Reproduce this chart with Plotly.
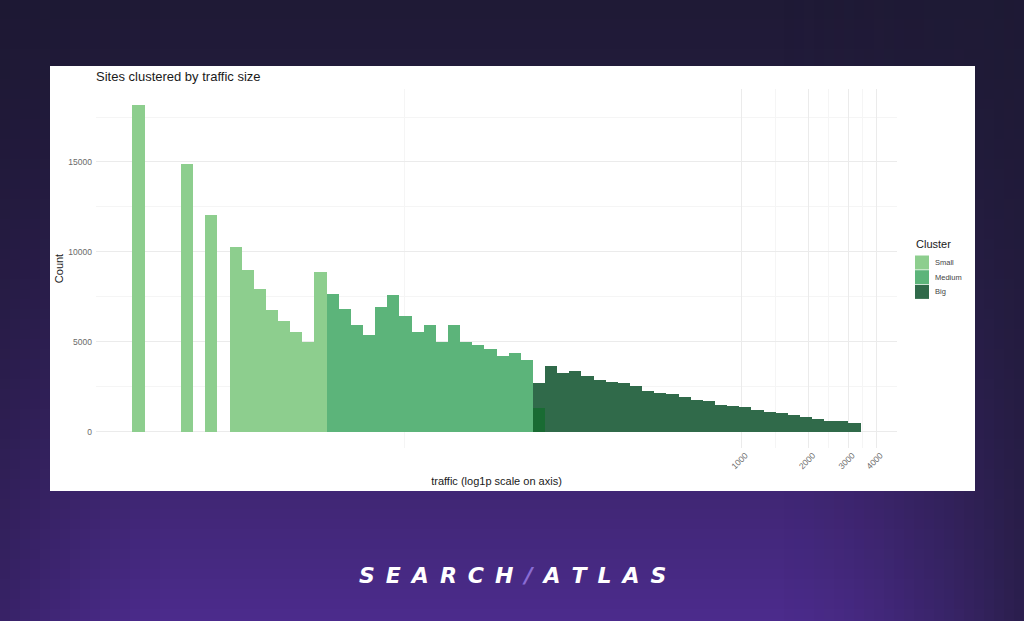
import numpy as np
import plotly.graph_objects as go

# ---------------- data ----------------
# histogram on log1p(traffic); bins of equal width in log1p space
bin_first_center = 0.724      # log1p units, centre of the first bin
bin_width = 0.1245            # log1p units

small_first_bin = 0
small_counts = [18150, 0, 0, 0, 14860, 0, 12040, 0, 10270, 8980, 7940, 6790,
                6180, 5550, 4970, 8860]
medium_first_bin = 16
medium_counts = [7680, 6830, 5960, 5350, 6920, 7590, 6420, 5550, 5960, 4970,
                 5920, 4990, 4810, 4620, 4200, 4360, 3970, 1330]
big_first_bin = 33
big_counts = [2720, 3640, 3270, 3380, 3090, 2890, 2750, 2720, 2530, 2290,
              2140, 2070, 1920, 1770, 1700, 1470, 1420, 1360, 1230, 1120,
              1030, 920, 810, 720, 620, 570, 490]

cluster_names = ["Small", "Medium", "Big"]
cluster_colors = ["#8dce8e", "#5cb47a", "#306a4a"]
overlap_color = "#196b33"

x_tick_values = [1000, 2000, 3000, 4000]
x_break_values = [0, 1000, 2000, 3000, 4000]
y_tick_values = [0, 5000, 10000, 15000]
y_tick_labels = ["0", "5000", "10000", "15000"]
y_minor_values = [2500, 7500, 12500, 17500]

title_text = "Sites clustered by traffic size"
x_title = "traffic (log1p scale on axis)"
y_title = "Count"
legend_title = "Cluster"

# ---------------- derived ----------------
def centers(first_bin, n):
    return [bin_first_center + (first_bin + i) * bin_width for i in range(n)]

xs_small = centers(small_first_bin, len(small_counts))
xs_medium = centers(medium_first_bin, len(medium_counts))
xs_big = centers(big_first_bin, len(big_counts))

# overlap between Medium and Big bins
ov_x, ov_y = [], []
for xm, cm in zip(xs_medium, medium_counts):
    for xb, cb in zip(xs_big, big_counts):
        if abs(xm - xb) < 1e-9:
            ov_x.append(xm)
            ov_y.append(min(cm, cb))

all_left = min(xs_small) - bin_width / 2
all_right = max(xs_big) + bin_width / 2
span = all_right - all_left
x_range = [all_left - 0.05 * span, all_right + 0.05 * span]
ymax = max(small_counts + medium_counts + big_counts)
y_range = [-0.05 * ymax, ymax * 1.05]

major_v = list(np.log1p(x_tick_values))
brk = list(np.log1p(x_break_values))
minor_v = [(a + b) / 2 for a, b in zip(brk[:-1], brk[1:])]

# ---------------- figure geometry ----------------
W, H = 1024, 621
ML, MR, MT, MB = 96, 127, 89, 173
PW, PH = W - ML - MR, H - MT - MB


def px2x(px):
    return (px - ML) / PW


def py2y(py):
    return (H - MB - py) / PH


def hexrgb(h):
    h = h.lstrip("#")
    return [int(h[i:i + 2], 16) for i in (0, 2, 4)]


def mix(c0, c1, t):
    a, b = hexrgb(c0), hexrgb(c1)
    return "rgb(%d,%d,%d)" % tuple(round(a[i] + (b[i] - a[i]) * t) for i in range(3))


fig = go.Figure()

for name, xs, ys, col in zip(cluster_names,
                             [xs_small, xs_medium, xs_big],
                             [small_counts, medium_counts, big_counts],
                             cluster_colors):
    fig.add_trace(go.Bar(x=xs, y=ys, width=bin_width, name=name,
                         marker=dict(color=col, line=dict(width=0)),
                         showlegend=False))

fig.add_trace(go.Bar(x=ov_x, y=ov_y, width=bin_width, showlegend=False,
                     marker=dict(color=overlap_color, line=dict(width=0)),
                     name="overlap"))

shapes = []
# background gradient: vertical
nb = 63
for i in range(nb):
    y0 = i * 10
    y1 = min(H, y0 + 10) + 1
    t = ((y0 + 5) / H) ** 1.4
    shapes.append(dict(type="rect", xref="paper", yref="paper", layer="below",
                       x0=px2x(-2), x1=px2x(W + 2), y0=py2y(y0 - 1), y1=py2y(y1),
                       fillcolor=mix("#1f1a36", "#4c2b8c", t), line=dict(width=0)))
# side darkening
for i in range(16):
    x0 = i * 10
    a = 0.4 * (1 - i / 16) ** 1.5
    shapes.append(dict(type="rect", xref="paper", yref="paper", layer="below",
                       x0=px2x(x0), x1=px2x(x0 + 10), y0=py2y(H + 2), y1=py2y(-2),
                       fillcolor="rgba(28,22,48,%.3f)" % a, line=dict(width=0)))
for i in range(24):
    x0 = W - (i + 1) * 10
    a = 0.7 * (1 - i / 24) ** 1.5
    shapes.append(dict(type="rect", xref="paper", yref="paper", layer="below",
                       x0=px2x(x0), x1=px2x(x0 + 10), y0=py2y(H + 2), y1=py2y(-2),
                       fillcolor="rgba(30,26,52,%.3f)" % a, line=dict(width=0)))
# white panel
shapes.append(dict(type="rect", xref="paper", yref="paper", layer="below",
                   x0=px2x(50), x1=px2x(975), y0=py2y(491), y1=py2y(66),
                   fillcolor="white", line=dict(width=0)))

annotations = []

# legend (ggplot-style: contiguous 14px keys)
leg_x, leg_title_y, key_top, key_size, key_step = 915, 244, 255.5, 14, 14.7
annotations.append(dict(text=legend_title, xref="paper", yref="paper",
                        x=px2x(leg_x - 1.5), y=py2y(leg_title_y),
                        xanchor="left", yanchor="middle", showarrow=False,
                        font=dict(size=11, color="#1a1a1a")))
for i, (name, col) in enumerate(zip(cluster_names, cluster_colors)):
    t0 = key_top + i * key_step
    shapes.append(dict(type="rect", xref="paper", yref="paper", layer="above",
                       x0=px2x(leg_x), x1=px2x(leg_x + key_size),
                       y0=py2y(t0 + key_size), y1=py2y(t0),
                       fillcolor=col, line=dict(width=0)))
    annotations.append(dict(text=name, xref="paper", yref="paper",
                            x=px2x(leg_x + key_size + 4), y=py2y(t0 + key_size / 2),
                            xanchor="left", yanchor="middle", showarrow=False,
                            font=dict(size=7.5, color="#444444")))

logo = ("<b><i>S\u2002E\u2002A\u2002R\u2002C\u2002H\u2002"
        "<span style='color:#8a6cd4'>/</span>"
        "\u2002A\u2002T\u2002L\u2002A\u2002S</i></b>")
annotations.append(dict(text=logo, xref="paper", yref="paper", x=px2x(512),
                        y=py2y(575), xanchor="center", yanchor="middle",
                        showarrow=False,
                        font=dict(family="DejaVu Sans", size=22, color="white")))

fig.update_layout(
    width=W, height=H,
    margin=dict(l=ML, r=MR, t=MT, b=MB, autoexpand=False),
    paper_bgcolor="#2a1f4a",
    plot_bgcolor="rgba(0,0,0,0)",
    barmode="overlay",
    bargap=0,
    font=dict(family="Liberation Sans, Arial, sans-serif", color="#333333"),
    title=dict(text=title_text, x=px2x(96), xref="paper", xanchor="left",
               y=1 - 76 / H, yref="container", yanchor="middle",
               font=dict(size=13, color="#1a1a1a")),
    xaxis=dict(range=x_range, tickmode="array", tickvals=major_v,
               ticktext=[str(v) for v in x_tick_values], tickangle=-45,
               tickfont=dict(size=8.5, color="#6a6a6a"),
               ticklabelshift=4,
               showgrid=True, gridcolor="#ebebeb", gridwidth=1,
               zeroline=False, showline=False, ticks="",
               minor=dict(tickmode="array", tickvals=minor_v, showgrid=True,
                          gridcolor="#f5f5f5", gridwidth=1, ticks=""),
               title=dict(text=x_title, font=dict(size=11, color="#1a1a1a"),
                          standoff=7),
               automargin=False, fixedrange=True),
    yaxis=dict(range=y_range, tickmode="array", tickvals=y_tick_values,
               ticktext=y_tick_labels,
               tickfont=dict(size=8.5, color="#6a6a6a"),
               ticklabelstandoff=3,
               showgrid=True, gridcolor="#ebebeb", gridwidth=1,
               zeroline=False, showline=False, ticks="",
               minor=dict(tickmode="array", tickvals=y_minor_values,
                          showgrid=True, gridcolor="#f5f5f5", gridwidth=1,
                          ticks=""),
               title=dict(text=y_title, font=dict(size=11, color="#1a1a1a"),
                          standoff=2),
               automargin=False, fixedrange=True),
    shapes=shapes,
    annotations=annotations,
    showlegend=False,
)

fig.write_html("out.html", config={"displayModeBar": False},
               post_script="document.body.style.margin='0';"
                           "document.body.style.overflow='hidden';")
